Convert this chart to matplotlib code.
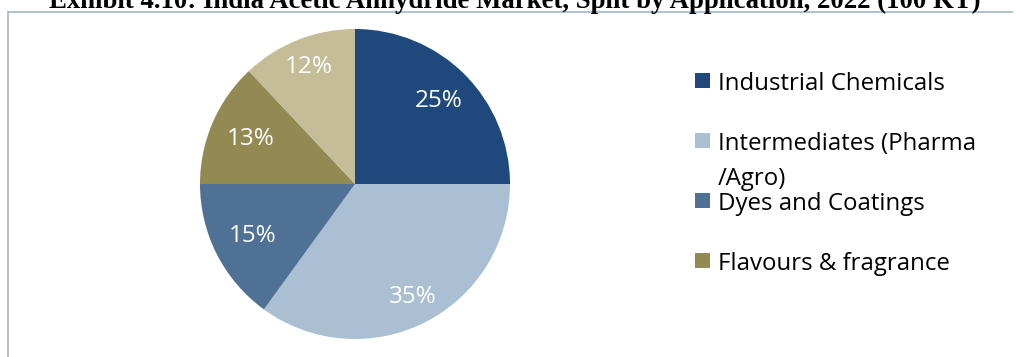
import matplotlib
matplotlib.use("Agg")
import numpy as np
import matplotlib.pyplot as plt
from matplotlib.patches import Rectangle
from matplotlib.lines import Line2D

# Application split of the Indian acetic anhydride market, 2022
categories = ["Industrial Chemicals", "Intermediates (Pharma\n/Agro)",
              "Dyes and Coatings", "Flavours & fragrance", "Others"]
shares = [25, 35, 15, 13, 12]
colors = ["#1F497D", "#AABFD1", "#4F7195", "#938953", "#C4BD97"]
title = "Exhibit 4.10: India Acetic Anhydride Market, Split by Application, 2022 (100 KT)"

W, H = 1016, 357
fig = plt.figure(figsize=(W / 100, H / 100), dpi=100)
fig.patch.set_facecolor("white")

# chart frame (left and top edges)
frame_col = "#A9BCCF"
fig.add_artist(Line2D([8 / W, 8 / W], [0, 1 - 12 / H], color=frame_col, lw=1.3))
fig.add_artist(Line2D([8 / W, 1012 / W], [1 - 12 / H, 1 - 12 / H], color=frame_col, lw=1.3))

# title, partly cut by the top edge
fig.text(515 / W, 1 - 8 / H, title, ha="center", va="baseline",
         fontsize=19.3, fontweight="bold", family="Liberation Serif", color="black")

# pie
cx, cy, r = 355, 184, 155
ax = fig.add_axes([(cx - r) / W, 1 - (cy + r) / H, 2 * r / W, 2 * r / H])
wedges, texts, autotexts = ax.pie(
    shares, colors=colors, startangle=90, counterclock=False,
    autopct="%d%%", pctdistance=0.77, radius=1.0,
    wedgeprops=dict(linewidth=0),
    textprops=dict(color="white", fontsize=17.5, family="Open Sans"))
ax.set_xlim(-1, 1)
ax.set_ylim(-1, 1)
ax.set_aspect("equal")
ax.axis("off")

# per-slice radial placement of percentage labels
label_r = [0.76, 0.82, 0.74, 0.73, 0.81]
for w, t, lr in zip(wedges, autotexts, label_r):
    ang = np.deg2rad((w.theta1 + w.theta2) / 2)
    t.set_position((lr * np.cos(ang), lr * np.sin(ang)))

# legend (first four entries fit inside the frame)
leg_x, leg_y0, leg_dy = 695, 81, 60
for i, (lab, col) in enumerate(zip(categories[:4], colors[:4])):
    yc = leg_y0 + i * leg_dy
    fig.add_artist(Rectangle((leg_x / W, 1 - (yc + 7) / H), 15 / W, 15 / H,
                             facecolor=col, edgecolor="none"))
    for j, ln in enumerate(lab.split("\n")):
        fig.text((leg_x + 23) / W, 1 - (yc + j * 35) / H, ln, ha="left",
                 va="center_baseline", fontsize=17.3, family="Open Sans",
                 color="black")

fig.savefig("out.png", dpi=100, facecolor="white")
